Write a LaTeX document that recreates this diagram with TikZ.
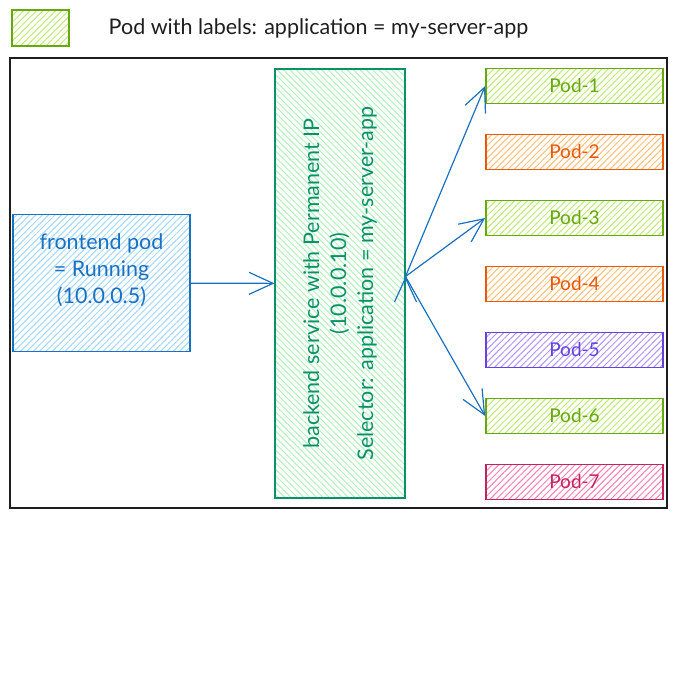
\documentclass[tikz,border=0pt]{standalone}
\usepackage{fontspec}
\setmainfont{Lato}
\usepackage{xcolor}
\usetikzlibrary{positioning,arrows.meta,patterns.meta}
\definecolor{bluestroke}{HTML}{1971C2}
\definecolor{bluefill}{HTML}{A5D8FF}
\definecolor{tealstroke}{HTML}{099268}
\definecolor{tealfill}{HTML}{B2F2BB}
\definecolor{greenstroke}{HTML}{66A80F}
\definecolor{greenfill}{HTML}{C0EB75}
\definecolor{orangestroke}{HTML}{E8590C}
\definecolor{orangefill}{HTML}{FFC078}
\definecolor{violetstroke}{HTML}{6741D9}
\definecolor{violetfill}{HTML}{B197FC}
\definecolor{pinkstroke}{HTML}{C2255C}
\definecolor{pinkfill}{HTML}{F783AC}
\definecolor{inkblack}{HTML}{1E1E1E}

\begin{document}
\begin{tikzpicture}[x=1pt,y=-1pt,
   every node/.style={font=\fontsize{19}{27}\selectfont},
   bigtext/.style={font=\fontsize{21.5}{27}\selectfont},
   hatched/.style={pattern={Lines[angle=45,distance=4.5pt,line width=1pt]}},
   backhatched/.style={pattern={Lines[angle=-45,distance=4.5pt,line width=1pt]}},
   box/.style={draw=#1stroke,line width=1.7pt,hatched,pattern color=#1fill,text=#1stroke,inner sep=0pt},
   podbox/.style={box=#1,minimum width=177pt,minimum height=35pt},
   link/.style={-{Straight Barb[length=24pt,width=22pt]},draw=bluestroke,line width=1.2pt}]
         \fill[white] (0,0) rectangle (677,690);
         \useasboundingbox (0,0) rectangle (677,690);

         \node[draw=inkblack,line width=1.5pt,minimum width=657pt,minimum height=450pt,name=frame] at (338.5,283) {};

         \node[box=green,minimum width=57pt,minimum height=36pt,name=legendbox] at (40.5,28) {};
         \node[bigtext,text=inkblack,inner sep=0pt,name=legendtext,right=39pt of legendbox] {Pod with labels: application = my-server-app};

         \node[box=blue,minimum width=177pt,minimum height=137pt,name=frontend] at (101.5,283) {};
         \node[bigtext,align=center,text=bluestroke,name=frontendlabel] at ([yshift=13pt]frontend.center) {frontend pod\\= Running\\(10.0.0.5)};

         \node[box=teal,backhatched,minimum width=130pt,minimum height=429pt,name=service] at (340,283.5) {};
         \node[bigtext,rotate=90,align=center,text=tealstroke,name=servicelabel] at (service.center) {backend service with Permanent IP\\(10.0.0.10)\\Selector: application = my-server-app};

         \node[podbox=green,name=pod1] at (574.5,86) {Pod-1};
         \node[podbox=orange,name=pod2,below=29.3pt of pod1] {Pod-2};
         \node[podbox=green,name=pod3,below=29.3pt of pod2] {Pod-3};
         \node[podbox=orange,name=pod4,below=29.3pt of pod3] {Pod-4};
         \node[podbox=violet,name=pod5,below=29.3pt of pod4] {Pod-5};
         \node[podbox=green,name=pod6,below=29.3pt of pod5] {Pod-6};
         \node[podbox=pink,name=pod7,below=29.3pt of pod6] {Pod-7};

         \path[link]
            (frontend) edge (service)
            ([yshift=7pt]service.east) edge (pod1.west)
                                       edge (pod3.west)
                                       edge (pod6.west);
      \end{tikzpicture}
\end{document}
